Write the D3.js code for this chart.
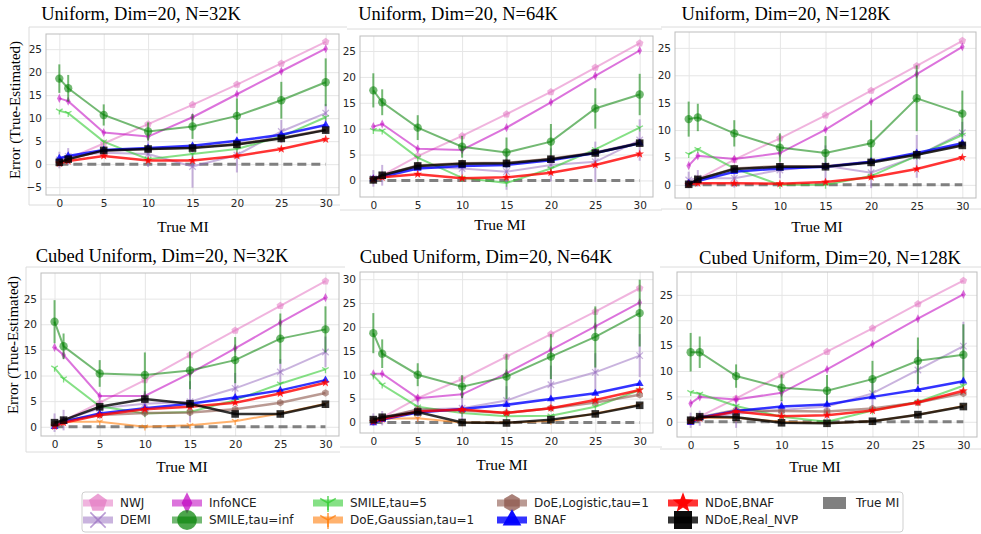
<!DOCTYPE html>
<html>
<head>
<meta charset="utf-8">
<script src="https://cdn.jsdelivr.net/npm/d3@7.9.0/dist/d3.min.js"></script>
<style>
  body { margin: 0; background: #fff; }
  svg { display: block; }
  .tick text { font-family: "DejaVu Sans", sans-serif; font-size: 10.5px; fill: #262626; }
  .serif { font-family: "Liberation Serif", "Times New Roman", serif; fill: #000; font-weight: 400; }
  .leg { font-family: "DejaVu Sans", sans-serif; font-size: 12px; fill: #222; }
</style>
</head>
<body>
<svg id="chart" width="981" height="534"></svg>
<script>
// x values shared by every panel
const trueMI = [0, 1, 5, 10, 15, 20, 25, 30];
const xTicks = [0, 5, 10, 15, 20, 25, 30];

const panelTitles = [
  "Uniform, Dim=20, N=32K", "Uniform, Dim=20, N=64K", "Uniform, Dim=20, N=128K",
  "Cubed Uniform, Dim=20, N=32K", "Cubed Uniform, Dim=20, N=64K", "Cubed Uniform, Dim=20, N=128K"
];

// one row per panel, in the order of panelTitles
const nwj = [
  [0.3, 1.2, 4.5, 8.7, 12.9, 17.3, 21.9, 26.6],
  [0.3, 1.0, 4.7, 8.6, 12.8, 17.1, 21.8, 26.5],
  [0.3, 1.0, 4.6, 8.5, 12.7, 17.2, 21.7, 26.3],
  [0.5, 1.2, 4.7, 9.1, 14.0, 18.8, 23.6, 28.4],
  [0.3, 1.0, 5.1, 9.1, 13.8, 18.5, 23.2, 28.1],
  [0.3, 1.0, 4.6, 9.2, 13.8, 18.4, 23.2, 27.8]
];
const demi = [
  [0.9, 1.7, 2.5, 2.2, -0.5, 2.0, 7.1, 11.1],
  [0.4, 1.0, 2.6, 2.3, 1.7, 3.0, 3.6, 7.8],
  [0.9, 1.2, 1.2, 2.7, 3.5, 2.2, 5.2, 9.5],
  [0.8, 1.3, 3.6, 4.5, 4.9, 7.5, 10.7, 14.6],
  [0.6, 0.9, 2.7, 3.0, 4.6, 7.9, 10.5, 14.0],
  [0.3, 0.7, 1.6, 2.3, 3.0, 5.6, 10.2, 14.9]
];
const demiErr = [
  [1.8, 1.8, 1.0, 2.8, 4.6, 3.8, 2.5, 2.0],
  [1.6, 2.0, 1.0, 1.2, 3.5, 3.2, 3.9, 4.0],
  [1.5, 1.5, 1.7, 1.5, 3.7, 2.8, 3.9, 2.0],
  [1.8, 2.0, 1.5, 2.5, 4.0, 3.0, 2.5, 3.0],
  [1.3, 1.5, 2.5, 2.5, 3.0, 4.0, 4.0, 4.5],
  [1.5, 1.5, 2.8, 2.0, 2.5, 3.0, 4.0, 4.8]
];
const infonce = [
  [14.3, 13.7, 6.9, 6.0, 10.2, 15.2, 20.2, 25.1],
  [10.4, 10.9, 6.1, 5.9, 10.2, 15.1, 20.2, 25.1],
  [3.5, 5.3, 4.7, 5.8, 10.1, 15.2, 20.2, 25.2],
  [15.5, 14.0, 6.0, 6.0, 10.4, 15.3, 20.3, 25.2],
  [10.2, 10.2, 5.1, 5.9, 10.3, 15.2, 20.1, 25.1],
  [3.6, 4.9, 4.4, 5.7, 10.3, 15.3, 20.3, 25.1]
];
const smileInf = [
  [18.6, 16.5, 10.7, 7.1, 8.2, 10.5, 13.9, 17.8],
  [17.4, 15.1, 10.2, 6.5, 5.4, 7.5, 13.9, 16.6],
  [12.0, 12.3, 9.4, 6.8, 5.8, 7.6, 15.8, 13.0],
  [20.5, 15.7, 10.4, 10.1, 11.0, 13.0, 17.2, 19.0],
  [18.7, 14.4, 10.0, 7.5, 9.6, 13.8, 17.9, 22.9],
  [13.7, 13.7, 9.0, 6.7, 6.1, 8.4, 12.0, 13.2]
];
const smileInfErr = [
  [3.1, 2.9, 2.3, 2.0, 2.7, 3.8, 4.0, 5.2],
  [3.3, 2.5, 2.4, 2.1, 2.9, 3.4, 3.9, 4.0],
  [3.2, 2.5, 2.4, 2.6, 3.1, 4.2, 6.0, 4.2],
  [4.2, 2.5, 2.6, 4.4, 3.7, 4.5, 4.9, 4.5],
  [4.2, 3.0, 2.4, 2.4, 4.7, 4.7, 6.4, 7.0],
  [3.8, 3.1, 2.3, 2.6, 3.1, 3.6, 4.6, 6.0]
];
const smile5 = [
  [11.6, 11.1, 4.9, 1.1, 2.2, 3.3, 6.0, 10.2],
  [9.7, 9.6, 4.4, 0.5, -0.5, 2.3, 6.0, 10.2],
  [5.6, 6.5, 3.0, 0.0, 0.0, 1.6, 5.3, 9.1],
  [11.5, 9.4, 4.0, 2.6, 2.9, 5.2, 8.4, 11.2],
  [9.8, 7.9, 3.3, 2.0, 1.3, 1.4, 3.3, 6.8],
  [5.8, 5.5, 3.1, 1.0, 0.0, 2.2, 3.9, 7.1]
];
const doeGauss = [
  null, null, null,
  [0.5, 1.0, 1.0, 0.0, 0.3, 1.1, 2.6, 4.5],
  [0.5, 0.8, 0.9, 0.0, 0.0, 0.3, 1.9, 3.7],
  [0.2, 0.8, 0.8, 0.0, -0.3, 0.1, 1.4, 3.1]
];
const doeLogistic = [
  [0.4, 1.1, 3.0, 3.3, 3.6, 4.4, 5.7, 7.5],
  [0.1, 1.0, 2.9, 3.3, 3.4, 4.2, 5.4, 7.3],
  [0.1, 1.0, 3.0, 3.4, 3.4, 4.2, 5.6, 7.3],
  [0.6, 1.2, 2.3, 2.7, 2.8, 3.4, 4.7, 6.6],
  [0.5, 1.0, 2.7, 2.5, 2.0, 3.0, 4.2, 5.8],
  [0.4, 0.9, 2.3, 2.1, 2.0, 2.6, 3.8, 5.6]
];
const bnaf = [
  [1.3, 1.8, 3.1, 3.5, 4.0, 5.1, 6.4, 8.5],
  [0.3, 0.7, 2.3, 2.8, 3.0, 3.9, 5.3, 7.2],
  [0.3, 0.7, 2.4, 3.0, 3.3, 4.2, 5.8, 7.6],
  [0.0, 1.0, 2.6, 3.6, 4.5, 5.7, 7.1, 9.1],
  [-0.1, 0.6, 2.1, 2.8, 3.7, 4.9, 6.1, 8.1],
  [-0.2, 0.8, 2.1, 3.0, 3.4, 4.9, 6.3, 8.0]
];
const ndoeBnaf = [
  [0.2, 0.7, 1.8, 0.8, 0.8, 1.8, 3.3, 5.4],
  [0.2, 0.6, 1.2, 0.4, 0.6, 1.5, 3.0, 5.1],
  [0.1, 0.3, 0.3, 0.2, 0.5, 1.4, 2.9, 5.0],
  [0.1, 0.8, 2.3, 3.4, 3.9, 4.7, 6.5, 8.6],
  [0.2, 0.7, 2.3, 2.7, 2.0, 3.0, 4.7, 6.8],
  [0.1, 0.7, 2.0, 1.1, 1.3, 2.2, 3.8, 6.1]
];
const ndoeNvp = [
  [0.4, 1.1, 3.0, 3.3, 3.5, 4.3, 5.6, 7.4],
  [0.1, 1.0, 2.8, 3.2, 3.3, 4.1, 5.3, 7.2],
  [0.1, 1.0, 2.9, 3.3, 3.3, 4.1, 5.5, 7.2],
  [0.8, 1.3, 3.9, 5.4, 4.5, 2.5, 2.5, 4.4],
  [0.6, 1.1, 2.2, 0.0, -0.1, 0.6, 1.8, 3.6],
  [0.3, 1.0, 0.9, -0.2, -0.3, 0.1, 1.4, 3.0]
];

const series = [
  { name: "NWJ", data: nwj, color: "#e377c2", op: 0.55, mk: "pentagon", lw: 2 },
  { name: "DEMI", data: demi, err: demiErr, color: "#9467bd", op: 0.5, mk: "x", lw: 2 },
  { name: "InfoNCE", data: infonce, color: "#bf00bf", op: 0.55, mk: "diamond", lw: 2 },
  { name: "SMILE,tau=inf", data: smileInf, err: smileInfErr, color: "#008000", op: 0.55, mk: "circle", lw: 2 },
  { name: "SMILE,tau=5", data: smile5, color: "#33cc33", op: 0.6, mk: "tri", lw: 2 },
  { name: "DoE,Gaussian,tau=1", data: doeGauss, color: "#ff7f0e", op: 0.6, mk: "tri", lw: 2 },
  { name: "DoE,Logistic,tau=1", data: doeLogistic, color: "#8c564b", op: 0.6, mk: "hexagon", lw: 2.5 },
  { name: "BNAF", data: bnaf, color: "#0000ff", op: 0.8, mk: "triangle", lw: 2.5 },
  { name: "NDoE,BNAF", data: ndoeBnaf, color: "#ff0000", op: 0.8, mk: "star", lw: 2.5 },
  { name: "NDoE,Real_NVP", data: ndoeNvp, color: "#000000", op: 0.8, mk: "square", lw: 2.5 }
];

// panel geometry (pixels) and y ranges
const layout = [
  { x0: 46, x1: 339, y0: 34, y1: 195, yd: [-6.7, 28.3], yt: [-5, 0, 5, 10, 15, 20, 25], tx: 141, ty: 14, lx: 183, ly: 226, ylab: 110, ylx: 15 },
  { x0: 360, x1: 653, y0: 36, y1: 197, yd: [-3.2, 27.9], yt: [0, 5, 10, 15, 20, 25], tx: 458, ty: 14, lx: 500, ly: 224 },
  { x0: 675, x1: 976, y0: 32, y1: 198, yd: [-2.4, 27.9], yt: [0, 5, 10, 15, 20, 25], tx: 786, ty: 14, lx: 817, ly: 226 },
  { x0: 41, x1: 339, y0: 273, y1: 436, yd: [-1.8, 30.0], yt: [0, 5, 10, 15, 20, 25], tx: 162, ty: 256, lx: 182, ly: 466, ylab: 345, ylx: 13 },
  { x0: 360, x1: 653, y0: 272, y1: 433, yd: [-2.2, 31.5], yt: [0, 5, 10, 15, 20, 25, 30], tx: 486, ty: 257, lx: 502, ly: 464 },
  { x0: 677, x1: 977, y0: 272, y1: 437, yd: [-3.0, 29.5], yt: [0, 5, 10, 15, 20, 25], tx: 830, ty: 258, lx: 815, ly: 466 }
];

const svg = d3.select("#chart");

// faint frames of the pasted sub-figures
const frameLines = [
  [29, 27, 347, 27], [29, 27, 29, 205], [29, 205, 340, 205],
  [347, 29, 662, 29], [340, 210, 662, 210],
  [661, 27, 981, 27], [661, 209, 981, 209],
  [26, 267, 345, 267], [26, 267, 26, 452], [26, 452, 340, 452],
  [340, 447, 662, 447],
  [660, 267, 981, 267], [660, 449, 981, 449]
];
svg.append("g").selectAll("line").data(frameLines).join("line")
  .attr("x1", d => d[0]).attr("y1", d => d[1]).attr("x2", d => d[2]).attr("y2", d => d[3])
  .attr("stroke", "#dcdcdc").attr("stroke-width", 1);

function poly(n, r, rot) {
  const pts = d3.range(n).map(i => {
    const a = rot + i * 2 * Math.PI / n;
    return [(r * Math.sin(a)).toFixed(2), (-r * Math.cos(a)).toFixed(2)];
  });
  return "M" + pts.join("L") + "Z";
}

function markerPath(kind, s) {
  switch (kind) {
    case "pentagon": return poly(5, s * 1.05, 0);
    case "hexagon": return poly(6, s, 0);
    case "triangle": return poly(3, s * 1.2, 0);
    case "diamond": return `M0,${-1.2 * s}L${0.6 * s},0L0,${1.2 * s}L${-0.6 * s},0Z`;
    case "square": return `M${-s},${-s}H${s}V${s}H${-s}Z`;
    case "circle": return d3.symbol(d3.symbolCircle, Math.PI * (1.1 * s) ** 2)();
    case "star": {
      const pts = d3.range(10).map(i => {
        const r = i % 2 ? s * 0.5 : s * 1.2, a = i * Math.PI / 5;
        return [(r * Math.sin(a)).toFixed(2), (-r * Math.cos(a)).toFixed(2)];
      });
      return "M" + pts.join("L") + "Z";
    }
    case "x": { const a = s * 0.85; return `M${-a},${-a}L${a},${a}M${-a},${a}L${a},${-a}`; }
    case "tri": return `M0,0L0,${s}M0,0L${-0.87 * s},${-0.5 * s}M0,0L${0.87 * s},${-0.5 * s}`;
  }
}
const strokeOnly = k => k === "x" || k === "tri";

function drawMarker(g, kind, color, op, s, x, y) {
  const p = g.append("path").attr("d", markerPath(kind, s)).attr("transform", `translate(${x},${y})`);
  if (strokeOnly(kind)) p.attr("fill", "none").attr("stroke", color).attr("stroke-width", s > 6 ? 1.5 : 1.3).attr("stroke-opacity", op);
  else p.attr("fill", color).attr("fill-opacity", op);
}

layout.forEach((L, pi) => {
  const x = d3.scaleLinear().domain([-1.5, 31.5]).range([L.x0, L.x1]);
  const y = d3.scaleLinear().domain(L.yd).range([L.y1, L.y0]);
  const g = svg.append("g");

  g.append("rect").attr("x", L.x0).attr("y", L.y0).attr("width", L.x1 - L.x0).attr("height", L.y1 - L.y0)
    .attr("fill", "#fff");

  // grid
  g.append("g").attr("transform", `translate(0,${L.y1})`)
    .call(d3.axisBottom(x).tickValues(xTicks).tickSize(-(L.y1 - L.y0)).tickFormat(""))
    .call(a => a.select(".domain").remove())
    .call(a => a.selectAll("line").attr("stroke", "#e6e6e6"));
  g.append("g").attr("transform", `translate(${L.x0},0)`)
    .call(d3.axisLeft(y).tickValues(L.yt).tickSize(-(L.x1 - L.x0)).tickFormat(""))
    .call(a => a.select(".domain").remove())
    .call(a => a.selectAll("line").attr("stroke", "#e6e6e6"));

  // tick labels
  g.append("g").attr("transform", `translate(0,${L.y1})`)
    .call(d3.axisBottom(x).tickValues(xTicks).tickSize(0).tickPadding(5))
    .call(a => a.select(".domain").remove());
  g.append("g").attr("transform", `translate(${L.x0},0)`)
    .call(d3.axisLeft(y).tickValues(L.yt).tickSize(0).tickPadding(4))
    .call(a => a.select(".domain").remove());

  g.append("rect").attr("x", L.x0).attr("y", L.y0).attr("width", L.x1 - L.x0).attr("height", L.y1 - L.y0)
    .attr("fill", "none").attr("stroke", "#bdbdbd").attr("stroke-width", 1);

  // true MI reference (error = 0)
  g.append("line").attr("x1", x(0)).attr("x2", x(30)).attr("y1", y(0)).attr("y2", y(0))
    .attr("stroke", "#808080").attr("stroke-width", 3).attr("stroke-dasharray", "9,5");

  const line = d3.line().x((d, i) => x(trueMI[i])).y(d => y(d));

  series.forEach(s => {
    const vals = s.data[pi];
    if (!vals) return;
    g.append("path").attr("d", line(vals)).attr("fill", "none")
      .attr("stroke", s.color).attr("stroke-width", s.lw).attr("stroke-opacity", s.op);
    if (s.err) {
      vals.forEach((v, i) => {
        g.append("line").attr("x1", x(trueMI[i])).attr("x2", x(trueMI[i]))
          .attr("y1", y(v - s.err[pi][i])).attr("y2", y(v + s.err[pi][i]))
          .attr("stroke", s.color).attr("stroke-width", 2).attr("stroke-opacity", s.op);
      });
    }
    vals.forEach((v, i) => drawMarker(g, s.mk, s.color, s.op, 3.8, x(trueMI[i]), y(v)));
  });

  // texts
  svg.append("text").attr("class", "serif").attr("x", L.tx).attr("y", L.ty)
    .attr("text-anchor", "middle").attr("dominant-baseline", "central")
    .style("font-size", "18.5px").text(panelTitles[pi]);
  svg.append("text").attr("class", "serif").attr("x", L.lx).attr("y", L.ly)
    .attr("text-anchor", "middle").attr("dominant-baseline", "central")
    .style("font-size", "15.5px").text("True MI");
  if (L.ylab) {
    svg.append("text").attr("class", "serif")
      .attr("transform", `translate(${L.ylx},${L.ylab}) rotate(-90)`)
      .attr("text-anchor", "middle").attr("dominant-baseline", "central")
      .style("font-size", "15px").text("Error (True-Estimated)");
  }
});

// legend
const leg = svg.append("g");
leg.append("rect").attr("x", 82).attr("y", 492).attr("width", 821).attr("height", 40).attr("rx", 3)
  .attr("fill", "#fff").attr("stroke", "#cfcfcf");
const legCols = [98, 187, 328, 512, 683];
const legRows = [503, 520];
series.forEach((s, i) => {
  const cx = legCols[Math.floor(i / 2)], cy = legRows[i % 2];
  leg.append("rect").attr("x", cx - 15).attr("y", cy - 3.5).attr("width", 30).attr("height", 7)
    .attr("fill", s.color).attr("fill-opacity", s.op);
  if (s.mk === "tri") {
    leg.append("line").attr("x1", cx).attr("x2", cx).attr("y1", cy - 7).attr("y2", cy + 7)
      .attr("stroke", s.color).attr("stroke-width", 2).attr("stroke-opacity", s.op);
  }
  drawMarker(leg, s.mk, s.color, Math.min(1, s.op + 0.15), 9, cx, cy);
  leg.append("text").attr("class", "leg").attr("x", cx + 22).attr("y", cy)
    .attr("dominant-baseline", "central").text(s.name);
});
leg.append("rect").attr("x", 823).attr("y", 497).attr("width", 23).attr("height", 12).attr("fill", "#808080");
leg.append("text").attr("class", "leg").attr("x", 856).attr("y", 503)
  .attr("dominant-baseline", "central").text("True MI");
</script>
</body>
</html>
